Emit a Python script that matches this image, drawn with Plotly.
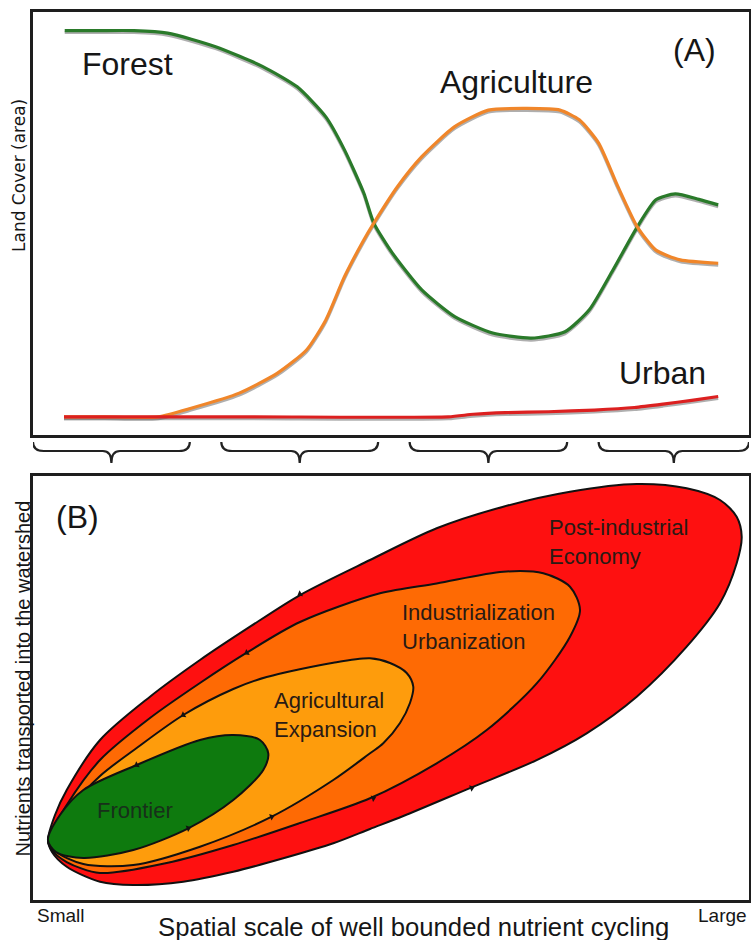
import plotly.graph_objects as go

# ---------------- Panel A : land cover through time ----------------
forest_x = [4.43, 9.0, 14.1, 18.8, 25.5, 32.1, 36.9, 40.9, 43.5, 46.2, 47.6, 50.2, 54.3, 58.9,
            64.2, 69.6, 74.3, 77.7, 81.0, 84.4, 87.0, 89.7, 93.0, 95.7]
forest_y = [95.6, 95.6, 95.6, 95.0, 91.8, 87.1, 82.3, 75.2, 67.4, 57.2, 50.1, 43.0, 34.3, 28.0,
            24.1, 22.9, 24.4, 29.6, 39.0, 49.2, 55.6, 57.0, 55.7, 54.4]

agri_x = [4.33, 10.0, 17.5, 22.2, 28.8, 34.2, 38.2, 40.9, 43.5, 46.2, 47.6, 50.9, 54.3, 58.9,
          63.6, 69.0, 73.6, 76.3, 79.0, 81.7, 84.4, 87.0, 90.4, 95.7]
agri_y = [4.3, 4.3, 4.3, 6.4, 9.9, 14.7, 20.1, 27.2, 37.4, 46.1, 50.1, 58.7, 65.8, 72.9,
          76.8, 77.2, 76.8, 74.5, 69.0, 58.7, 49.2, 43.7, 41.4, 40.6]

urban_x = [4.33, 30.0, 58.0, 61.5, 66.0, 72.0, 78.4, 84.0, 88.0, 92.0, 95.7]
urban_y = [4.3, 4.3, 4.3, 4.9, 5.3, 5.5, 5.9, 6.5, 7.3, 8.2, 9.1]

# phases marked by braces under panel A
phase_start = [0.0, 26.3, 52.6, 79.0]
phase_end = [21.9, 48.2, 74.6, 100.0]

# ---------------- Panel B : nested cycles ----------------
post_x = [2.09, 3.07, 4.71, 9.36, 16.34, 23.32, 30.31, 37.29, 47.07, 56.38, 65.68, 75.0, 84.32,
          91.30, 95.95, 98.28, 98.98, 98.28, 95.95, 91.30, 84.32, 77.33, 70.35, 61.03, 51.72,
          47.07, 41.94, 34.96, 27.97, 20.99, 14.01, 9.36, 4.71, 2.65]
post_y = [14.15, 20.05, 25.94, 37.74, 47.95, 56.60, 64.46, 71.93, 80.19, 87.67, 92.76, 96.30, 98.11,
          97.10, 94.34, 90.40, 85.68, 79.41, 69.98, 59.74, 47.95, 39.32, 33.0, 26.4, 19.8,
          16.75, 13.37, 9.83, 6.67, 4.32, 3.54, 4.32, 7.85, 11.32]

ind_x = [2.09, 4.71, 9.36, 16.34, 23.32, 29.85, 37.29, 48.46, 56.38, 65.68, 71.27, 75.0, 76.40,
         75.0, 70.35, 63.37, 56.38, 47.07, 37.29, 27.97, 18.67, 9.36, 4.71, 2.65]
ind_y = [14.15, 22.41, 33.02, 42.92, 51.18, 58.33, 65.57, 72.34, 74.67, 77.43, 77.05, 73.89, 68.40,
         62.10, 51.08, 40.09, 32.24, 23.99, 18.16, 12.97, 8.73, 6.37, 8.96, 11.79]

agx_x = [2.09, 4.71, 9.36, 14.48, 20.99, 27.97, 32.64, 41.94, 47.07, 49.86, 52.19, 53.11, 52.65,
         51.26, 48.92, 47.07, 41.94, 33.34, 23.32, 14.01, 7.03, 3.07]
agx_y = [14.15, 20.75, 29.25, 35.85, 43.63, 49.76, 52.59, 55.97, 57.00, 55.90, 53.54, 50.31, 46.46,
         41.75, 36.96, 34.60, 28.30, 19.65, 12.57, 8.25, 8.49, 11.56]

front_x = [2.09, 3.77, 7.03, 14.48, 23.32, 27.97, 31.70, 32.86, 32.16, 27.97, 21.69, 14.01, 7.03, 3.21]
front_y = [14.15, 20.05, 25.94, 31.84, 37.74, 38.92, 37.74, 34.60, 30.66, 23.58, 16.91, 11.79, 9.91, 11.32]

arrow_up_x = [37.29, 29.85, 20.99, 14.48]
arrow_up_y = [72.17, 58.33, 43.63, 31.84]
arrow_lo_x = [21.69, 33.34, 47.53, 61.27]
arrow_lo_y = [16.91, 19.65, 23.99, 26.4]

W, H = 751, 940
XDOM = [33 / W, 749 / W]
A_DOM = [1 - 435 / H, 1 - 12 / H]
SH = 2 / H
SHADOW_DOM = [A_DOM[0] - SH, A_DOM[1] - SH]
B_DOM = [1 - 900 / H, 1 - 476 / H]

fig = go.Figure()

series = [
    (forest_x, forest_y, "#2a7a2a"),
    (agri_x, agri_y, "#f0862a"),
    (urban_x, urban_y, "#dc2020"),
]
for xs, ys, _ in series:
    fig.add_trace(go.Scatter(x=xs, y=ys, mode="lines", xaxis="x", yaxis="y",
                             line=dict(color="rgba(110,110,110,0.55)", width=3, shape="spline",
                                       smoothing=0.6),
                             hoverinfo="skip", showlegend=False))
for xs, ys, col in series:
    fig.add_trace(go.Scatter(x=xs, y=ys, mode="lines", xaxis="x", yaxis="y2",
                             line=dict(color=col, width=3.2, shape="spline", smoothing=0.6),
                             hoverinfo="skip", showlegend=False))

regions = [
    (post_x, post_y, "#fe1010"),
    (ind_x, ind_y, "#fe6a04"),
    (agx_x, agx_y, "#fe9c0c"),
    (front_x, front_y, "#0e7a0e"),
]
for xs, ys, col in regions:
    fig.add_trace(go.Scatter(x=xs + [xs[0]], y=ys + [ys[0]], mode="lines", fill="toself",
                             fillcolor=col, xaxis="x2", yaxis="y3",
                             line=dict(color="#111111", width=2, shape="spline", smoothing=0.85),
                             hoverinfo="skip", showlegend=False))

fig.add_trace(go.Scatter(x=arrow_up_x, y=arrow_up_y, mode="markers", xaxis="x2", yaxis="y3",
                         marker=dict(symbol="triangle-left", size=6, color="#111111", angle=-30),
                         hoverinfo="skip", showlegend=False))
fig.add_trace(go.Scatter(x=arrow_lo_x, y=arrow_lo_y, mode="markers", xaxis="x2", yaxis="y3",
                         marker=dict(symbol="triangle-right", size=6, color="#111111", angle=-20),
                         hoverinfo="skip", showlegend=False))

shapes = []
y_top, y_mid, y_bot = 1 - 442 / H, 1 - 451 / H, 1 - 463 / H
r_end, r_tip = 1.5, 1.2
for x0, x1 in zip(phase_start, phase_end):
    xc = (x0 + x1) / 2
    p = (f"M {x0},{y_top} Q {x0},{y_mid} {x0 + r_end},{y_mid} L {xc - r_tip},{y_mid} "
         f"Q {xc},{y_mid} {xc},{y_bot} Q {xc},{y_mid} {xc + r_tip},{y_mid} "
         f"L {x1 - r_end},{y_mid} Q {x1},{y_mid} {x1},{y_top}")
    shapes.append(dict(type="path", path=p, xref="x", yref="paper",
                       line=dict(color="#222222", width=2.2)))

TXT = "#161616"
SANS = "Liberation Sans, Arial, sans-serif"
ann = []


def note(x, y, text, xref, yref, size, color=TXT, family=SANS, xanchor="center", **kw):
    ann.append(dict(x=x, y=y, xref=xref, yref=yref, text=text, showarrow=False,
                    xanchor=xanchor, yanchor="middle",
                    font=dict(family=family, size=size, color=color), **kw))


note(13.13, 87.7, "Forest", "x", "y2", 32)
note(67.46, 83.45, "Agriculture", "x", "y2", 32)
note(87.85, 14.66, "Urban", "x", "y2", 32)
note(92.32, 91.0, "(A)", "x", "y2", 32)
note(6.22, 90.4, "(B)", "x2", "y3", 32)

LAB = "#2a1a14"
note(14.25, 21.2, "Frontier", "x2", "y3", 22, color="#17301a")
note(33.38, 43.6, "Agricultural<br>Expansion", "x2", "y3", 22, color=LAB, xanchor="left", align="left")
note(51.26, 64.4, "Industrialization<br>Urbanization", "x2", "y3", 22, color=LAB, xanchor="left", align="left")
note(71.79, 84.4, "Post-industrial<br>Economy", "x2", "y3", 22, color=LAB, xanchor="left", align="left")

note(19 / W, 1 - 176 / H, "Land Cover (area)", "paper", "paper", 17,
     family="DejaVu Sans, sans-serif", textangle=-90)
note(22.5 / W, 1 - 679 / H, "Nutrients transported into the watershed", "paper", "paper", 20,
     textangle=-90)
note(413 / W, 1 - 927 / H, "Spatial scale of well bounded nutrient cycling", "paper", "paper", 25.7)
note(60.5 / W, 1 - 915 / H, "Small", "paper", "paper", 19)
note(749 / W, 1 - 915 / H, "Large", "paper", "paper", 19, xanchor="right")

box = dict(showline=True, mirror=True, linecolor="#1e1e1e", linewidth=2.5, showgrid=False,
           zeroline=False, showticklabels=False, ticks="")

fig.update_layout(
    width=W, height=H, margin=dict(l=0, r=0, t=0, b=0),
    paper_bgcolor="white", plot_bgcolor="rgba(0,0,0,0)",
    xaxis=dict(domain=XDOM, range=[0, 100], anchor="y2", **box),
    yaxis=dict(domain=SHADOW_DOM, range=[0, 100], anchor="x", visible=False),
    yaxis2=dict(domain=A_DOM, range=[0, 100], anchor="x", **box),
    xaxis2=dict(domain=XDOM, range=[0, 100], anchor="y3", **box),
    yaxis3=dict(domain=B_DOM, range=[0, 100], anchor="x2", **box),
    shapes=shapes, annotations=ann, showlegend=False,
)

fig.write_html("out.html",
               config={"displayModeBar": False},
               post_script="document.body.style.margin='0';"
                           "document.documentElement.style.overflow='hidden';"
                           "document.body.style.overflow='hidden';")
